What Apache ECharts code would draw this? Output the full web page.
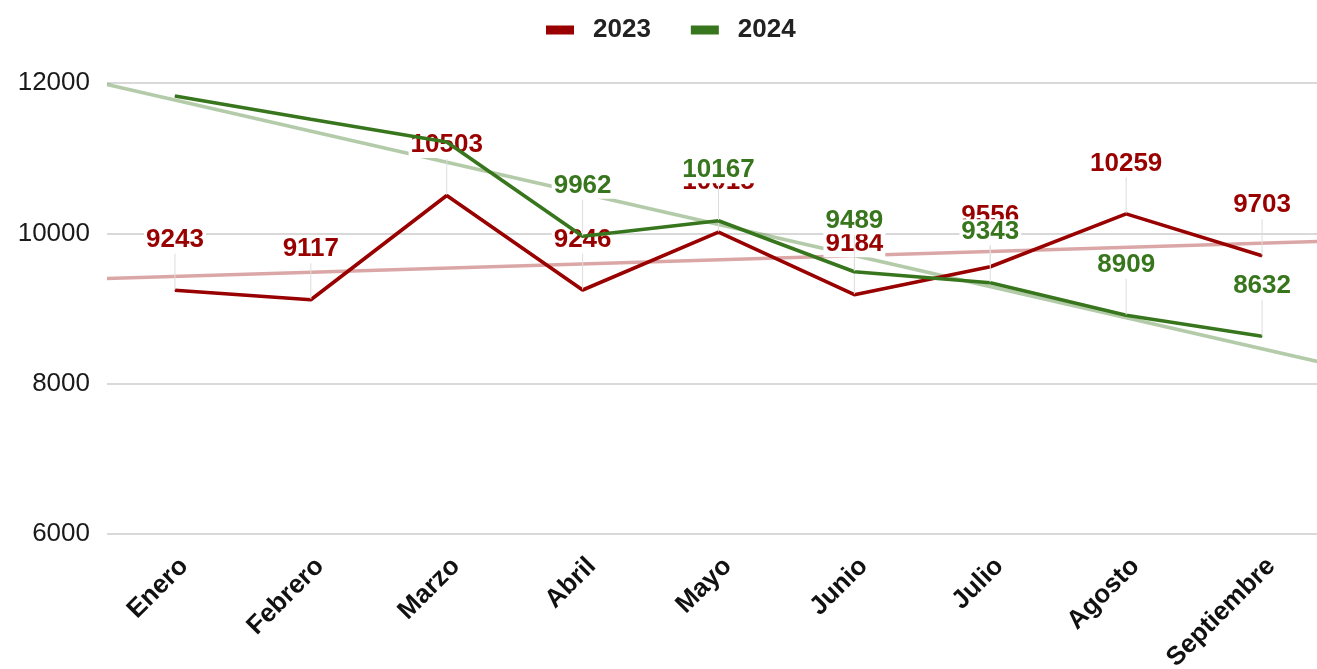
<!DOCTYPE html>
<html>
<head>
<meta charset="utf-8">
<script src="https://cdn.jsdelivr.net/npm/echarts@6/dist/echarts.min.js"></script>
<style>
html, body { margin: 0; padding: 0; background: #fff; }
#chart { width: 1317px; height: 669px; }
</style>
</head>
<body>
<div id="chart"></div>
<script>
var months = ['Enero', 'Febrero', 'Marzo', 'Abril', 'Mayo', 'Junio', 'Julio', 'Agosto', 'Septiembre'];
var ventas2023 = [9243, 9117, 10503, 9246, 10015, 9184, 9556, 10259, 9703];
var ventas2024 = [11826, 11518, 11215, 9962, 10167, 9489, 9343, 8909, 8632];
// labels that do not show in the original picture
var hidden2024 = [0, 1, 2];
var yTicks = [6000, 8000, 10000, 12000];

var font = '"Liberation Sans", Arial, sans-serif';
var red = '#990000';
var green = '#38761d';

// linear trend, drawn across the full category band
function trend(vals) {
    var n = vals.length, sx = 0, sy = 0, sxy = 0, sxx = 0;
    for (var i = 0; i < n; i++) {
        sx += i; sy += vals[i]; sxy += i * vals[i]; sxx += i * i;
    }
    var b = (n * sxy - sx * sy) / (n * sxx - sx * sx);
    var a = (sy - b * sx) / n;
    return [[-0.5, a - 0.5 * b], [n - 0.5, a + (n - 0.5) * b]];
}

function pointData(vals, hide) {
    return vals.map(function (v, i) {
        if (hide && hide.indexOf(i) >= 0) return { value: v, label: { show: false }, labelLine: { show: false } };
        return v;
    });
}

function labelOpts(color) {
    return {
        show: true,
        position: 'top',
        distance: 4,
        color: color,
        fontFamily: font,
        fontWeight: 'bold',
        fontSize: 26,
        backgroundColor: '#fff',
        padding: [0, 2, 0, 2],
        textBorderColor: '#fff',
        textBorderWidth: 2
    };
}

var myChart = echarts.init(document.getElementById('chart'));
var option = {
    animation: false,
    textStyle: { fontFamily: font },
    legend: {
        data: ['2023', '2024'],
        top: 12,
        left: 541,
        itemWidth: 28,
        itemHeight: 9,
        itemGap: 40,
        icon: 'rect',
        textStyle: { fontSize: 26, fontWeight: 'bold', color: '#222', fontFamily: font, padding: [0, 0, 0, 14] }
    },
    grid: { left: 107, right: -13, top: 83, bottom: 135, containLabel: false, outerBoundsMode: 'none' },
    xAxis: [{
        type: 'category',
        data: months,
        boundaryGap: true,
        axisLine: { show: false },
        axisTick: { show: false },
        axisLabel: {
            rotate: 45,
            margin: 19,
            verticalAlign: 'top',
            fontSize: 26,
            fontWeight: 'bold',
            color: '#111',
            fontFamily: font
        }
    }, {
        type: 'value',
        min: -0.5,
        max: months.length - 0.5,
        show: false
    }],
    yAxis: {
        type: 'value',
        min: yTicks[0],
        max: yTicks[yTicks.length - 1],
        interval: 2000,
        axisLine: { show: false },
        axisTick: { show: false },
        axisLabel: {
            fontSize: 26, color: '#1a1a1a', margin: 17, fontFamily: font,
            formatter: function (v) { return String(v); }
        },
        splitLine: { lineStyle: { color: '#cccccc', width: 1.5 } }
    },
    series: [{
        name: 'trend2023',
        type: 'line',
        xAxisIndex: 1,
        data: trend(ventas2023),
        symbol: 'none',
        silent: true,
        lineStyle: { color: red, width: 3.5, opacity: 0.35 },
        z: 1
    }, {
        name: 'trend2024',
        type: 'line',
        xAxisIndex: 1,
        data: trend(ventas2024),
        symbol: 'none',
        silent: true,
        lineStyle: { color: green, width: 3.5, opacity: 0.38 },
        z: 1
    }, {
        name: '2023',
        type: 'line',
        data: pointData(ventas2023),
        symbol: 'circle',
        symbolSize: 1,
        showSymbol: true,
        itemStyle: { color: red },
        color: red,
        lineStyle: { color: red, width: 3.6 },
        label: labelOpts(red),
        labelLayout: { dy: -33 },
        labelLine: { show: true, lineStyle: { color: '#dddddd', width: 1 } },
        z: 3
    }, {
        name: '2024',
        type: 'line',
        data: pointData(ventas2024, hidden2024),
        symbol: 'circle',
        symbolSize: 1,
        showSymbol: true,
        itemStyle: { color: green },
        color: green,
        lineStyle: { color: green, width: 3.6 },
        label: labelOpts(green),
        labelLayout: { dy: -33 },
        labelLine: { show: true, lineStyle: { color: '#dddddd', width: 1 } },
        z: 4
    }]
};
myChart.setOption(option);
</script>
</body>
</html>
